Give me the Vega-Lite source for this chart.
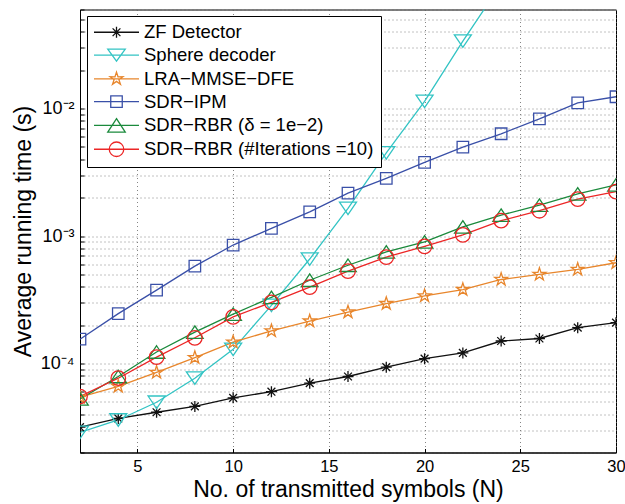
{
  "$schema": "https://vega.github.io/schema/vega-lite/v6.json",
  "width": 536,
  "height": 443,
  "autosize": {"type": "none"},
  "padding": {"left": 80, "top": 9.5, "right": 9, "bottom": 51.5},
  "background": "white",
  "config": {
    "font": "Liberation Sans",
    "view": {"stroke": "black", "strokeWidth": 1},
    "axis": {
      "grid": true,
      "gridDash": [1, 3],
      "gridColor": "#666666",
      "gridWidth": 0.8,
      "tickSize": -4,
      "tickColor": "black",
      "domainColor": "black",
      "labelPadding": 10,
      "labelFontSize": 18,
      "labelColor": "black",
      "labelFlush": false,
      "labelOverlap": false,
      "titleFontSize": 23,
      "titleFontWeight": "normal",
      "titleColor": "black"
    },
    "legend": {
      "title": null,
      "orient": "none",
      "legendX": 7,
      "legendY": 6.5,
      "direction": "vertical",
      "padding": 7,
      "strokeColor": "black",
      "fillColor": "white",
      "labelFont": "Liberation Sans",
      "labelFontSize": 18.5,
      "labelColor": "black",
      "labelOffset": 31.5,
      "labelLimit": 400,
      "rowPadding": 3.8,
      "symbolSize": 100,
      "symbolStrokeWidth": 1.3,
      "symbolOffset": 0,
      "symbolOpacity": 1
    }
  },
  "data": {
    "values": [
      {"N": 2, "t": 3.16e-5, "m": "ZF Detector"},
      {"N": 4, "t": 3.7e-5, "m": "ZF Detector"},
      {"N": 6, "t": 4.14e-5, "m": "ZF Detector"},
      {"N": 8, "t": 4.6e-5, "m": "ZF Detector"},
      {"N": 10, "t": 5.37e-5, "m": "ZF Detector"},
      {"N": 12, "t": 6.0e-5, "m": "ZF Detector"},
      {"N": 14, "t": 7.0e-5, "m": "ZF Detector"},
      {"N": 16, "t": 7.9e-5, "m": "ZF Detector"},
      {"N": 18, "t": 9.35e-5, "m": "ZF Detector"},
      {"N": 20, "t": 1.09e-4, "m": "ZF Detector"},
      {"N": 22, "t": 1.21e-4, "m": "ZF Detector"},
      {"N": 24, "t": 1.5e-4, "m": "ZF Detector"},
      {"N": 26, "t": 1.57e-4, "m": "ZF Detector"},
      {"N": 28, "t": 1.91e-4, "m": "ZF Detector"},
      {"N": 30, "t": 2.09e-4, "m": "ZF Detector"},
      {"N": 2, "t": 2.88e-5, "m": "Sphere decoder"},
      {"N": 4, "t": 3.6e-5, "m": "Sphere decoder"},
      {"N": 6, "t": 4.96e-5, "m": "Sphere decoder"},
      {"N": 8, "t": 7.66e-5, "m": "Sphere decoder"},
      {"N": 10, "t": 1.29e-4, "m": "Sphere decoder"},
      {"N": 12, "t": 2.86e-4, "m": "Sphere decoder"},
      {"N": 14, "t": 6.6e-4, "m": "Sphere decoder"},
      {"N": 16, "t": 1.65e-3, "m": "Sphere decoder"},
      {"N": 18, "t": 4.5e-3, "m": "Sphere decoder"},
      {"N": 20, "t": 1.14e-2, "m": "Sphere decoder"},
      {"N": 22, "t": 3.39e-2, "m": "Sphere decoder"},
      {"N": 24, "t": 0.095, "m": "Sphere decoder"},
      {"N": 2, "t": 5.43e-5, "m": "LRA−MMSE−DFE"},
      {"N": 4, "t": 6.6e-5, "m": "LRA−MMSE−DFE"},
      {"N": 6, "t": 8.5e-5, "m": "LRA−MMSE−DFE"},
      {"N": 8, "t": 1.11e-4, "m": "LRA−MMSE−DFE"},
      {"N": 10, "t": 1.47e-4, "m": "LRA−MMSE−DFE"},
      {"N": 12, "t": 1.8e-4, "m": "LRA−MMSE−DFE"},
      {"N": 14, "t": 2.15e-4, "m": "LRA−MMSE−DFE"},
      {"N": 16, "t": 2.53e-4, "m": "LRA−MMSE−DFE"},
      {"N": 18, "t": 2.95e-4, "m": "LRA−MMSE−DFE"},
      {"N": 20, "t": 3.39e-4, "m": "LRA−MMSE−DFE"},
      {"N": 22, "t": 3.8e-4, "m": "LRA−MMSE−DFE"},
      {"N": 24, "t": 4.56e-4, "m": "LRA−MMSE−DFE"},
      {"N": 26, "t": 5.0e-4, "m": "LRA−MMSE−DFE"},
      {"N": 28, "t": 5.47e-4, "m": "LRA−MMSE−DFE"},
      {"N": 30, "t": 6.17e-4, "m": "LRA−MMSE−DFE"},
      {"N": 2, "t": 1.55e-4, "m": "SDR−IPM"},
      {"N": 4, "t": 2.46e-4, "m": "SDR−IPM"},
      {"N": 6, "t": 3.76e-4, "m": "SDR−IPM"},
      {"N": 8, "t": 5.8e-4, "m": "SDR−IPM"},
      {"N": 10, "t": 8.5e-4, "m": "SDR−IPM"},
      {"N": 12, "t": 1.15e-3, "m": "SDR−IPM"},
      {"N": 14, "t": 1.55e-3, "m": "SDR−IPM"},
      {"N": 16, "t": 2.17e-3, "m": "SDR−IPM"},
      {"N": 18, "t": 2.84e-3, "m": "SDR−IPM"},
      {"N": 20, "t": 3.78e-3, "m": "SDR−IPM"},
      {"N": 22, "t": 4.99e-3, "m": "SDR−IPM"},
      {"N": 24, "t": 6.35e-3, "m": "SDR−IPM"},
      {"N": 26, "t": 8.3e-3, "m": "SDR−IPM"},
      {"N": 28, "t": 1.11e-2, "m": "SDR−IPM"},
      {"N": 30, "t": 1.24e-2, "m": "SDR−IPM"},
      {"N": 2, "t": 5.27e-5, "m": "SDR−RBR (δ = 1e−2)"},
      {"N": 4, "t": 7.9e-5, "m": "SDR−RBR (δ = 1e−2)"},
      {"N": 6, "t": 1.23e-4, "m": "SDR−RBR (δ = 1e−2)"},
      {"N": 8, "t": 1.76e-4, "m": "SDR−RBR (δ = 1e−2)"},
      {"N": 10, "t": 2.44e-4, "m": "SDR−RBR (δ = 1e−2)"},
      {"N": 12, "t": 3.3e-4, "m": "SDR−RBR (δ = 1e−2)"},
      {"N": 14, "t": 4.5e-4, "m": "SDR−RBR (δ = 1e−2)"},
      {"N": 16, "t": 5.9e-4, "m": "SDR−RBR (δ = 1e−2)"},
      {"N": 18, "t": 7.5e-4, "m": "SDR−RBR (δ = 1e−2)"},
      {"N": 20, "t": 9.0e-4, "m": "SDR−RBR (δ = 1e−2)"},
      {"N": 22, "t": 1.18e-3, "m": "SDR−RBR (δ = 1e−2)"},
      {"N": 24, "t": 1.46e-3, "m": "SDR−RBR (δ = 1e−2)"},
      {"N": 26, "t": 1.75e-3, "m": "SDR−RBR (δ = 1e−2)"},
      {"N": 28, "t": 2.14e-3, "m": "SDR−RBR (δ = 1e−2)"},
      {"N": 30, "t": 2.52e-3, "m": "SDR−RBR (δ = 1e−2)"},
      {"N": 2, "t": 5.5e-5, "m": "SDR−RBR (#Iterations =10)"},
      {"N": 4, "t": 7.66e-5, "m": "SDR−RBR (#Iterations =10)"},
      {"N": 6, "t": 1.12e-4, "m": "SDR−RBR (#Iterations =10)"},
      {"N": 8, "t": 1.59e-4, "m": "SDR−RBR (#Iterations =10)"},
      {"N": 10, "t": 2.32e-4, "m": "SDR−RBR (#Iterations =10)"},
      {"N": 12, "t": 3.02e-4, "m": "SDR−RBR (#Iterations =10)"},
      {"N": 14, "t": 3.97e-4, "m": "SDR−RBR (#Iterations =10)"},
      {"N": 16, "t": 5.3e-4, "m": "SDR−RBR (#Iterations =10)"},
      {"N": 18, "t": 6.84e-4, "m": "SDR−RBR (#Iterations =10)"},
      {"N": 20, "t": 8.3e-4, "m": "SDR−RBR (#Iterations =10)"},
      {"N": 22, "t": 1.02e-3, "m": "SDR−RBR (#Iterations =10)"},
      {"N": 24, "t": 1.32e-3, "m": "SDR−RBR (#Iterations =10)"},
      {"N": 26, "t": 1.58e-3, "m": "SDR−RBR (#Iterations =10)"},
      {"N": 28, "t": 1.95e-3, "m": "SDR−RBR (#Iterations =10)"},
      {"N": 30, "t": 2.23e-3, "m": "SDR−RBR (#Iterations =10)"}
    ]
  },
  "encoding": {
    "x": {
      "field": "N",
      "type": "quantitative",
      "scale": {"domain": [2, 30], "nice": false, "zero": false},
      "axis": {
        "values": [5, 10, 15, 20, 25, 30],
        "labelFontSize": 16.5,
        "title": "No. of transmitted symbols (N)",
        "titlePadding": 3
      }
    },
    "y": {
      "field": "t",
      "type": "quantitative",
      "scale": {"type": "log", "domain": [0.00002, 0.06], "nice": false},
      "axis": {
        "values": [0.00002, 0.00003, 0.00004, 0.00005, 0.00006, 0.00007, 0.00008, 0.00009, 0.0001, 0.0002, 0.0003, 0.0004, 0.0005, 0.0006, 0.0007, 0.0008, 0.0009, 0.001, 0.002, 0.003, 0.004, 0.005, 0.006, 0.007, 0.008, 0.009, 0.01, 0.02, 0.03, 0.04, 0.05, 0.06],
        "labelExpr": "datum.value == 0.0001 ? '10⁻⁴' : datum.value == 0.001 ? '10⁻³' : datum.value == 0.01 ? '10⁻²' : ''",
        "title": "Average running time (s)",
        "titlePadding": 5
      }
    }
  },
  "layer": [
    {
      "mark": {"type": "line", "strokeWidth": 1.3, "clip": true},
      "encoding": {
        "color": {
          "field": "m",
          "type": "nominal",
          "scale": {
            "domain": ["ZF Detector", "Sphere decoder", "LRA−MMSE−DFE", "SDR−IPM", "SDR−RBR (δ = 1e−2)", "SDR−RBR (#Iterations =10)"],
            "range": ["#111111", "#33c4c4", "#e8862c", "#3a50a8", "#1b8a3c", "#ec2626"]
          },
          "legend": null
        }
      }
    },
    {
      "mark": {"type": "point", "filled": false, "size": 100, "strokeWidth": 1.3, "clip": true, "opacity": 1},
      "encoding": {
        "color": {
          "field": "m",
          "type": "nominal",
          "scale": {
            "domain": ["ZF Detector", "Sphere decoder", "LRA−MMSE−DFE", "SDR−IPM", "SDR−RBR (δ = 1e−2)", "SDR−RBR (#Iterations =10)"],
            "range": ["#111111", "#33c4c4", "#e8862c", "#3a50a8", "#1b8a3c", "#ec2626"]
          },
          "legend": null
        },
        "shape": {
          "field": "m",
          "type": "nominal",
          "scale": {
            "domain": ["ZF Detector", "Sphere decoder", "LRA−MMSE−DFE", "SDR−IPM", "SDR−RBR (δ = 1e−2)", "SDR−RBR (#Iterations =10)"],
            "range": [
              "M0,-1.1V1.1M-1.1,0H1.1M-0.78,-0.78L0.78,0.78M-0.78,0.78L0.78,-0.78",
              "M-1.7,-1.25H1.7L0,1.25Z",
              "M0,-1.35L0.301,-0.414L1.284,-0.417L0.487,0.158L0.794,1.092L0,0.513L-0.794,1.092L-0.487,0.158L-1.284,-0.417L-0.301,-0.414Z",
              "M-1.15,-1.15H1.15V1.15H-1.15Z",
              "M0,-1.25L1.65,1.25H-1.65Z",
              "M-1.45,0A1.45,1.45 0 1,0 1.45,0A1.45,1.45 0 1,0 -1.45,0Z"
            ]
          },
          "legend": null
        }
      }
    },
    {
      "transform": [{"filter": "false"}],
      "mark": {"type": "point", "filled": false, "size": 100, "strokeWidth": 1.3, "opacity": 1},
      "encoding": {
        "color": {
          "field": "m",
          "type": "nominal",
          "scale": {
            "domain": ["ZF Detector", "Sphere decoder", "LRA−MMSE−DFE", "SDR−IPM", "SDR−RBR (δ = 1e−2)", "SDR−RBR (#Iterations =10)"],
            "range": ["#111111", "#33c4c4", "#e8862c", "#3a50a8", "#1b8a3c", "#ec2626"]
          },
          "legend": {"title": null}
        },
        "shape": {
          "field": "m",
          "type": "nominal",
          "scale": {
            "domain": ["ZF Detector", "Sphere decoder", "LRA−MMSE−DFE", "SDR−IPM", "SDR−RBR (δ = 1e−2)", "SDR−RBR (#Iterations =10)"],
            "range": [
              "M-1.85,0H7.15M2.65,-1.1V1.1M1.55,0H3.75M1.87,-0.78L3.43,0.78M1.87,0.78L3.43,-0.78",
              "M-1.85,0H7.15M0.9,-1.2H4.4L2.65,1.2Z",
              "M-1.85,0H7.15M2.65,-1.35L2.951,-0.414L3.934,-0.417L3.137,0.158L3.444,1.092L2.65,0.513L1.856,1.092L2.163,0.158L1.366,-0.417L2.349,-0.414Z",
              "M-1.85,0H7.15M1.5,-1.15H3.8V1.15H1.5Z",
              "M-1.85,0H7.15M2.65,-1.35L4.4,1.35H0.9Z",
              "M-1.85,0H7.15M1.2,0A1.45,1.45 0 1,0 4.1,0A1.45,1.45 0 1,0 1.2,0Z"
            ]
          },
          "legend": {"title": null}
        }
      }
    }
  ],
  "resolve": {"scale": {"shape": "independent", "color": "independent"}}
}
